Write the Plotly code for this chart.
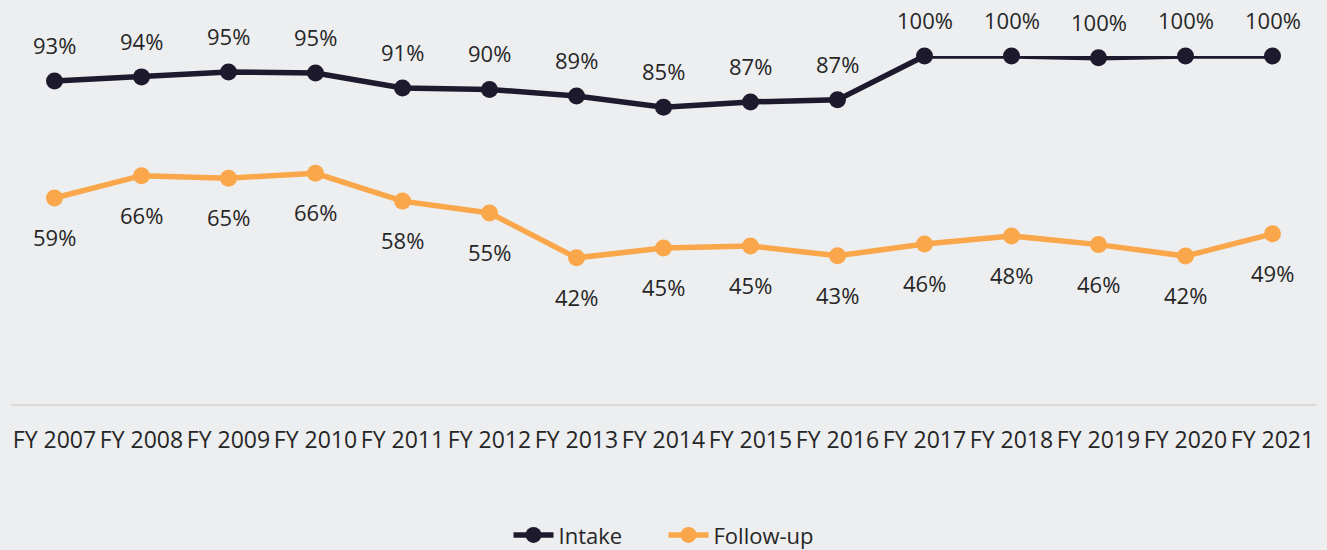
import plotly.graph_objects as go

years = ["FY 2007", "FY 2008", "FY 2009", "FY 2010", "FY 2011", "FY 2012", "FY 2013",
         "FY 2014", "FY 2015", "FY 2016", "FY 2017", "FY 2018", "FY 2019", "FY 2020", "FY 2021"]
intake = [92.8, 94.0, 95.4, 95.1, 90.8, 90.4, 88.5, 85.3, 86.8, 87.4, 100.0, 100.0, 99.5, 100.0, 100.0]
followup = [59.2, 65.6, 64.9, 66.3, 58.3, 54.9, 42.0, 44.8, 45.4, 42.6, 46.0, 48.3, 45.8, 42.5, 48.9]
intake_labels = ["93%", "94%", "95%", "95%", "91%", "90%", "89%", "85%", "87%", "87%",
                 "100%", "100%", "100%", "100%", "100%"]
followup_labels = ["59%", "66%", "65%", "66%", "58%", "55%", "42%", "45%", "45%", "43%",
                   "46%", "48%", "46%", "42%", "49%"]

DARK = "#1D1A2E"
ORANGE = "#F9A74A"
BG = "#EDEEF0"
FONT = "Open Sans"
TXT = "#262626"

fig = go.Figure()
fig.add_trace(go.Scatter(x=years, y=intake, name="Intake", mode="lines+markers",
                         line=dict(color=DARK, width=5.5), marker=dict(color=DARK, size=17),
                         cliponaxis=False))
fig.add_trace(go.Scatter(x=years, y=followup, name="Follow-up", mode="lines+markers",
                         line=dict(color=ORANGE, width=5.5), marker=dict(color=ORANGE, size=17),
                         cliponaxis=False))

for x, y, t in zip(years, intake, intake_labels):
    fig.add_annotation(x=x, y=y, text=t, showarrow=False, yshift=36,
                       font=dict(family=FONT, size=22, color=TXT))
for x, y, t in zip(years, followup, followup_labels):
    fig.add_annotation(x=x, y=y, text=t, showarrow=False, yshift=-39,
                       font=dict(family=FONT, size=22, color=TXT))

fig.update_layout(
    width=1327, height=550,
    paper_bgcolor=BG, plot_bgcolor=BG,
    margin=dict(l=11, r=11, t=56, b=146, autoexpand=False),
    font=dict(family=FONT, size=22, color=TXT),
    showlegend=True,
    legend=dict(orientation="h", x=0.5, xanchor="center", yref="container",
                y=0.027, yanchor="middle", entrywidth=100,
                font=dict(family=FONT, size=22, color=TXT),
                bgcolor="rgba(0,0,0,0)", itemwidth=40),
    xaxis=dict(type="category", range=[-0.5, len(years) - 0.5], showline=True,
               linecolor="#D9D9D9", linewidth=2,
               showgrid=False, zeroline=False, ticks="", tickangle=0,
               ticklabelstandoff=14, tickfont=dict(family=FONT, size=23, color=TXT)),
    yaxis=dict(range=[0, 100], visible=False, showgrid=False, zeroline=False),
)

fig.write_html("out.html", config={"displayModeBar": False},
               post_script="document.body.style.margin='0';")
